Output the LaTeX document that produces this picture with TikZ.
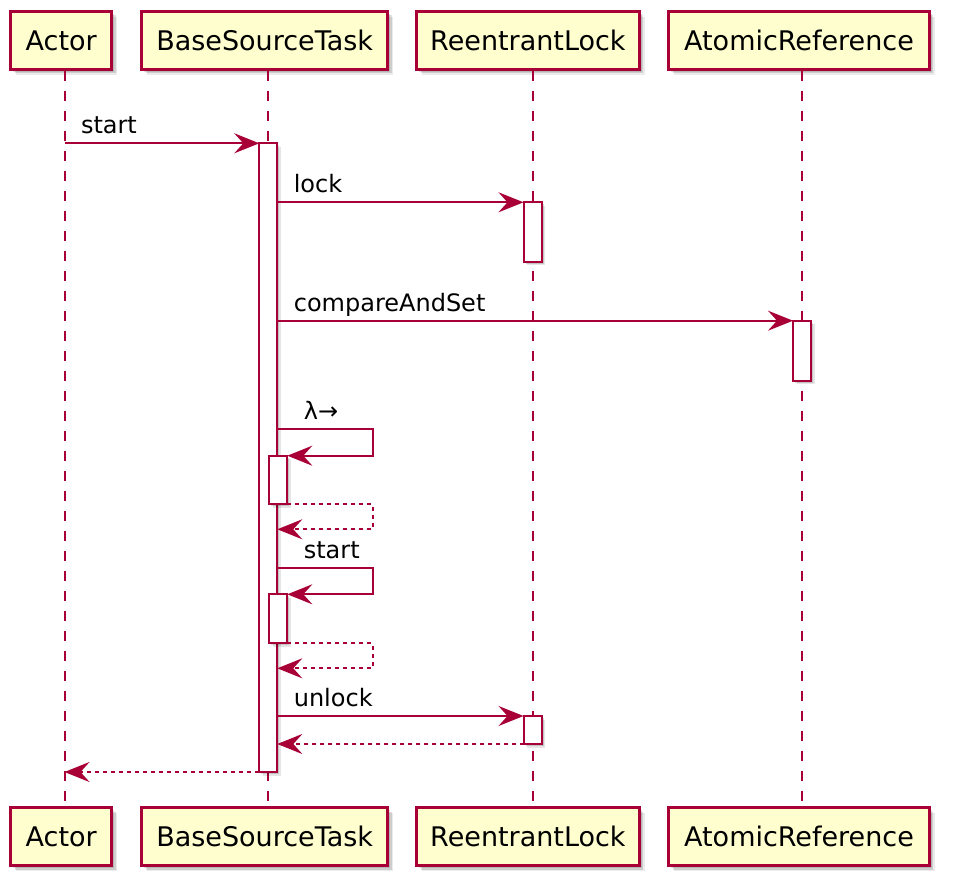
\documentclass[tikz,border=0pt]{standalone}
\usepackage{fontspec}
\setmainfont{DejaVu Sans}
\usetikzlibrary{arrows.meta, shadows}
\definecolor{umlred}{HTML}{A80036}
\definecolor{umlfill}{HTML}{FEFECE}

\begin{document}
\begin{tikzpicture}[x=1pt,y=-1pt,>={Stealth[length=25pt,width=20pt,inset=9pt]},
  soft shadow/.style={general shadow={shadow xshift=2.5pt,shadow yshift=-2.5pt,fill=black,opacity=.12},
    general shadow={shadow xshift=4pt,shadow yshift=-4pt,fill=black,opacity=.12},
    general shadow={shadow xshift=5.5pt,shadow yshift=-5.5pt,fill=black,opacity=.08}},
  bar shadow/.style={general shadow={shadow xshift=2pt,shadow yshift=-2pt,fill=black,opacity=.15},
    general shadow={shadow xshift=3.5pt,shadow yshift=-3.5pt,fill=black,opacity=.1}},
  part node/.style={draw=umlred,fill=umlfill,line width=3pt,inner sep=0pt,minimum height=58pt,
    text height=19.5pt,text depth=0pt,font=\fontsize{27}{31}\selectfont,soft shadow},
  bar node/.style={draw=umlred,fill=white,line width=2pt,inner sep=0pt,outer sep=0pt,minimum width=18pt,bar shadow},
  life/.style={draw=umlred,line width=2pt,dash pattern=on 10pt off 10pt},
  msg/.style={->,draw=umlred,line width=2pt},
  ret/.style={msg,dash pattern=on 4pt off 4pt},
  lbl/.style={anchor=base west,inner sep=0pt,font=\fontsize{24}{28}\selectfont,xshift=15.5pt,yshift=9.5pt},
  slbl/.style={lbl,xshift=10pt}]
  \useasboundingbox (0,0) rectangle (954,893);
  % participants
  \node[part node, minimum width=100.7pt] (actT) at (61.2,40.5) {Actor};
  \node[part node, minimum width=246.3pt] (bstT) at (264.7,40.5) {BaseSourceTask};
  \node[part node, minimum width=222.7pt] (rlT) at (527.9,40.5) {ReentrantLock};
  \node[part node, minimum width=260.4pt] (arT) at (799,40.5) {AtomicReference};
  \node[part node, minimum width=100.7pt] (actB) at (61.2,836.6) {Actor};
  \node[part node, minimum width=246.3pt] (bstB) at (264.7,836.6) {BaseSourceTask};
  \node[part node, minimum width=222.7pt] (rlB) at (527.9,836.6) {ReentrantLock};
  \node[part node, minimum width=260.4pt] (arB) at (799,836.6) {AtomicReference};
  % lifelines
  \coordinate (actX) at (64.5,0);
  \coordinate (bstX) at (268,0);
  \coordinate (rlX) at (532.5,0);
  \coordinate (arX) at (802.3,0);
  \coordinate (selfX) at (372.7,0);
  \draw[life] (actT.south -| actX) -- (actB.north -| actX);
  \draw[life] (bstT.south -| bstX) -- (bstB.north -| bstX);
  \draw[life] (rlT.south -| rlX) -- (rlB.north -| rlX);
  \draw[life] (arT.south -| arX) -- (arB.north -| arX);
  % activations
  \node[bar node, minimum height=628.7pt] (barT) at (268.3,457.65) {};
  \node[bar node, minimum height=59.7pt] (barL1) at (532.5,232.15) {};
  \node[bar node, minimum height=60pt] (barR) at (802,350.7) {};
  \node[bar node, minimum height=48.3pt] (barS1) at (278.3,479.85) {};
  \node[bar node, minimum height=48.7pt] (barS2) at (278.3,618.65) {};
  \node[bar node, minimum height=28pt] (barL2) at (532.5,730) {};
  % messages
  \draw[msg] (barT.north west -| actX) node[lbl]{start} -- (barT.north west);
  \draw[msg] (barL1.north west -| barT.east) node[lbl]{lock} -- (barL1.north west);
  \draw[msg] (barR.north west -| barT.east) node[lbl]{compareAndSet} -- (barR.north west);
  \draw[msg] (barT.east |- 0,429.3) node[slbl]{λ→} -| (barS1.north east -| selfX) -- (barS1.north east);
  \draw[ret] (barS1.south east) -| (selfX |- 0,529.3) -- (barT.east |- 0,529.3);
  \draw[msg] (barT.east |- 0,568.3) node[slbl]{start} -| (barS2.north east -| selfX) -- (barS2.north east);
  \draw[ret] (barS2.south east) -| (selfX |- 0,668.3) -- (barT.east |- 0,668.3);
  \draw[msg] (barL2.north west -| barT.east) node[lbl]{unlock} -- (barL2.north west);
  \draw[ret] (barL2.south west) -- (barL2.south west -| barT.east);
  \draw[ret] (barT.south west) -- (barT.south west -| actX);
\end{tikzpicture}
\end{document}
